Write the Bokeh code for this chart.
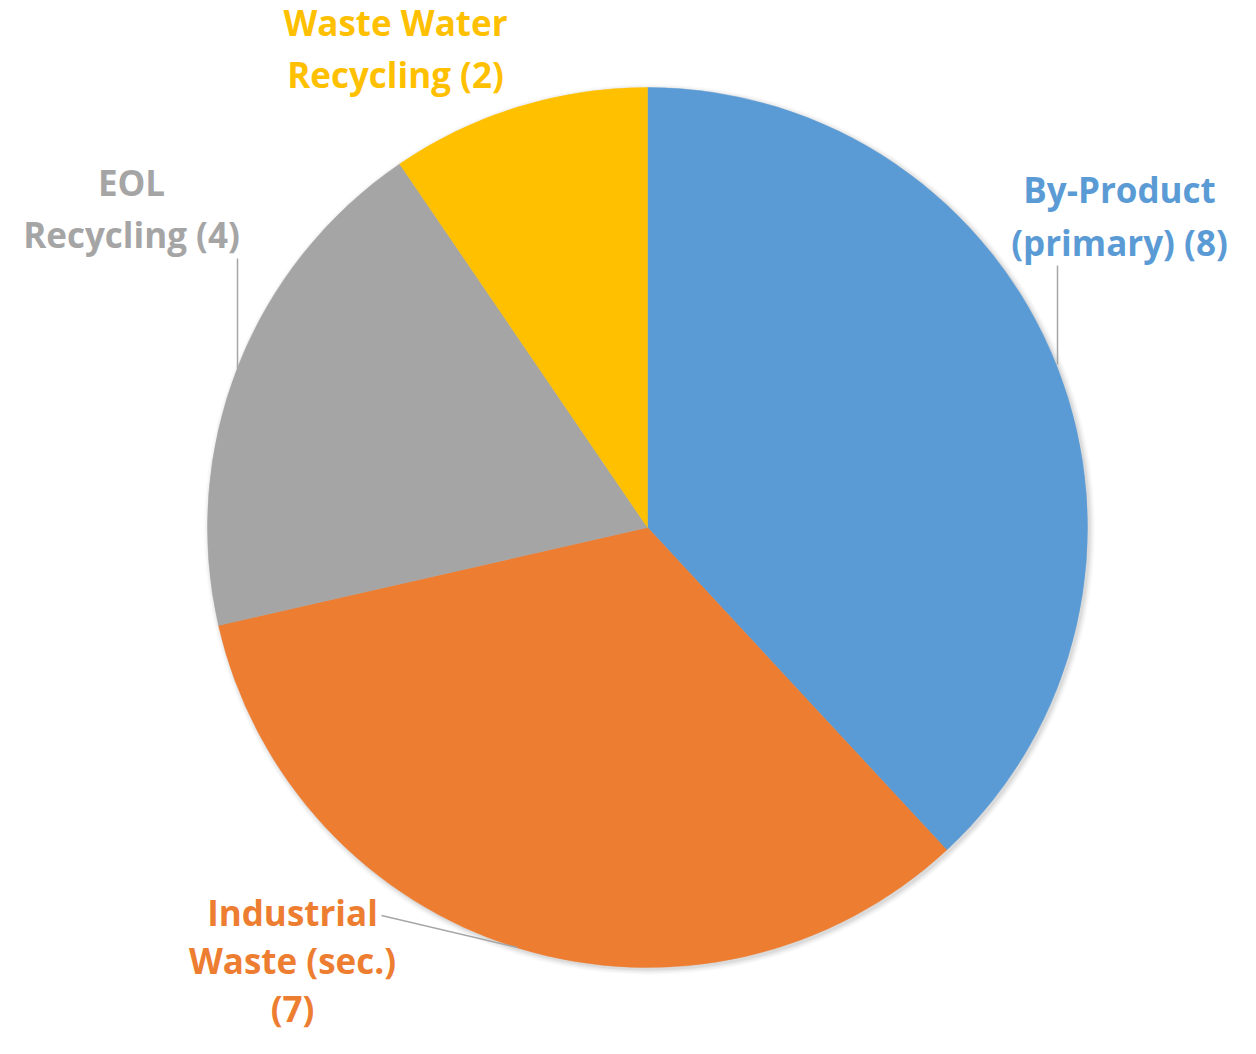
import numpy as np
from bokeh.plotting import figure
from bokeh.models import Range1d, ColumnDataSource
from bokeh.embed import file_html
from bokeh.resources import INLINE
from bokeh.core.properties import value

# ---- data ----
categories = ["By-Product (primary)", "Industrial Waste (sec.)", "EOL Recycling", "Waste Water Recycling"]
values = [8, 7, 4, 2]
colors = ["#5B9BD5", "#ED7D31", "#A5A5A5", "#FFC000"]
label_lines = [
    ["By-Product", "(primary) (%d)" % values[0]],
    ["Industrial", "Waste (sec.)", "(%d)" % values[1]],
    ["EOL", "Recycling (%d)" % values[2]],
    ["Waste Water", "Recycling (%d)" % values[3]],
]

# ---- layout (pixel coordinates in the picture) ----
WIN_W, WIN_H = 1256, 1054
W, H = WIN_W - 16, WIN_H - 16
CX, CY, R = 647, 527, 440          # pie centre / radius (px)
TEXT_SHIFT = 13                      # svg baseline correction
label_pos = [                        # (centre x, first baseline y, line step)
    (1119, 202, 53),
    (292, 925, 48),
    (131, 195, 52),
    (395, 35, 52),
]
leaders = [
    ([1057, 1057], [265, 364]),
    ([381, 517], [915, 947]),
    ([237, 237], [258, 368]),
]

def sy(y):
    return WIN_H - y

p = figure(width=W, height=H, x_range=Range1d(0, W), y_range=Range1d(WIN_H - H, WIN_H),
           output_backend="svg", toolbar_location=None, min_border=0,
           x_axis_location=None, y_axis_location=None)
p.grid.visible = False
p.outline_line_color = None
p.background_fill_color = "white"
p.border_fill_color = "white"

# soft shadow
for i, a in enumerate([0.05, 0.04, 0.03, 0.02]):
    p.circle(x=[CX + 2], y=[sy(CY + 2)], radius=R + 1 + i * 1.5,
             fill_color="black", fill_alpha=a, line_color=None)

total = float(sum(values))
cum = np.concatenate([[0.0], np.cumsum(values)])
start = np.pi / 2 - cum[:-1] / total * 2 * np.pi
end = np.pi / 2 - cum[1:] / total * 2 * np.pi
src = ColumnDataSource(dict(cat=categories, val=values, color=colors,
                            start=start, end=end))
p.wedge(x=CX, y=sy(CY), radius=R, start_angle="start", end_angle="end",
        direction="clock", fill_color="color", line_color="color",
        line_width=0.5, source=src)

for xs, ys in leaders:
    p.line(x=xs, y=[sy(v) for v in ys], line_color="#A6A6A6", line_width=1.5)

tx, ty, tt, tc = [], [], [], []
for lines, (lx, ly, step), col in zip(label_lines, label_pos, colors):
    for k, t in enumerate(lines):
        tx.append(lx)
        ty.append(sy(ly + k * step - TEXT_SHIFT))
        tt.append(t)
        tc.append(col)
p.text(x=tx, y=ty, text=tt, text_color=tc, text_font=value("Open Sans"),
       text_font_style="bold", text_font_size="35px", text_align="center",
       text_baseline="alphabetic")

open("out.html", "w").write(file_html(p, INLINE))
